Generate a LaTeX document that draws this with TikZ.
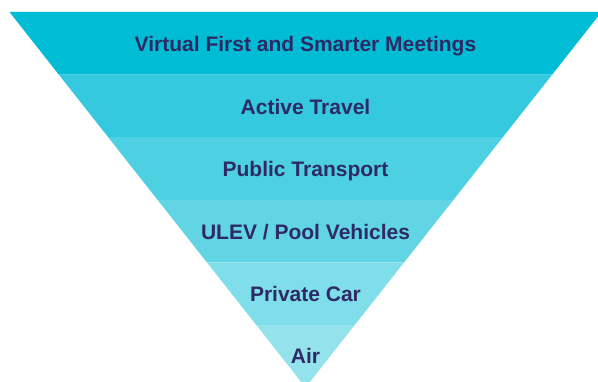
\documentclass[tikz,border=0pt]{standalone}
\usepackage{fontspec}
\setmainfont{Liberation Sans}

\definecolor{txtnavy}{RGB}{45,42,102}
\definecolor{bandA}{RGB}{0,188,212}
\definecolor{bandB}{RGB}{52,201,222}
\definecolor{bandC}{RGB}{77,208,225}
\definecolor{bandD}{RGB}{98,213,228}
\definecolor{bandE}{RGB}{128,222,234}
\definecolor{bandF}{RGB}{148,227,236}

\tikzset{
	level/.style={text=txtnavy, font=\bfseries\fontsize{21}{25}\selectfont, inner sep=0pt, anchor=base},
}

\begin{document}
\begin{tikzpicture}[x=1pt, y=-1pt]
		\useasboundingbox (0,0) rectangle (598,382);
		\clip (0,0) rectangle (598,382);

		% the six layers of the funnel
		\fill [bandA](9.5,12)--(601.5,12)--(552.2,74.6)--(58.8,74.6)--cycle;
		\fill [bandB](58.8,74.6)--(552.2,74.6)--(502.8,137.2)--(108.2,137.2)--cycle;
		\fill [bandC](108.2,137.2)--(502.8,137.2)--(453.5,199.8)--(157.5,199.8)--cycle;
		\fill [bandD](157.5,199.8)--(453.5,199.8)--(404.2,262.3)--(206.8,262.3)--cycle;
		\fill [bandE](206.8,262.3)--(404.2,262.3)--(354.8,324.9)--(256.2,324.9)--cycle;
		\fill [bandF](256.2,324.9)--(354.8,324.9)--(305.5,387.5)--cycle;

		\node (virtual)[level]at (305.5,51.5)  {Virtual First and Smarter Meetings};
		\node (active)[level]at (305.5,114.1)  {Active Travel};
		\node (public)[level]at (305.5,176.7)  {Public Transport};
		\node (ulev)[level]at (305.5,239.2)  {ULEV / Pool Vehicles};
		\node (private)[level]at (305.5,301.8)  {Private Car};
		\node (air)[level]at (305.5,364)  {Air};
	\end{tikzpicture}
\end{document}
